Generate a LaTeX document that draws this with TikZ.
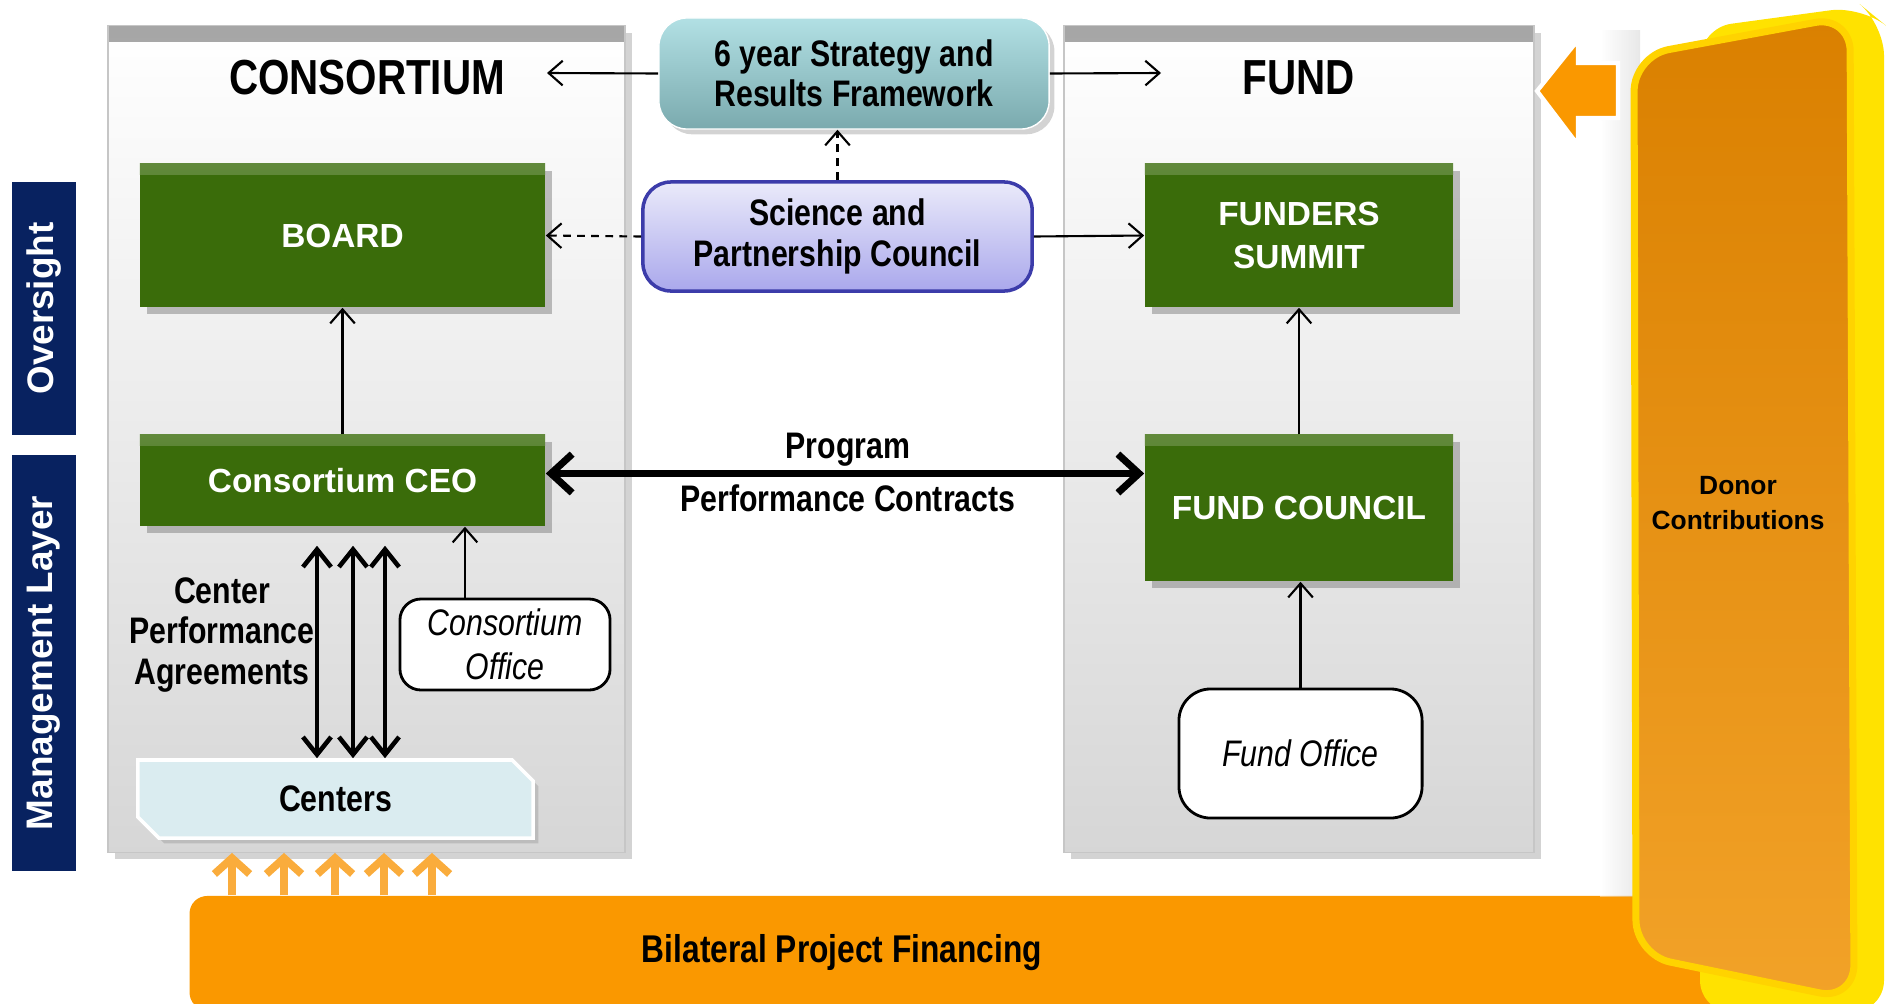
\documentclass[tikz,border=0pt]{standalone}
\usepackage{fontspec}
\setmainfont{Liberation Sans}
\newfontfamily\narrowfont[FakeStretch=0.82]{Liberation Sans}
\usetikzlibrary{arrows.meta,shadows,shapes.misc}
\definecolor{boxgreen}{RGB}{58,108,10}
\definecolor{navybar}{RGB}{8,34,96}
\definecolor{barorange}{RGB}{250,152,0}
\definecolor{tealtop}{RGB}{178,224,228}
\definecolor{tealbot}{RGB}{122,170,174}
\definecolor{lavtop}{RGB}{234,234,250}
\definecolor{lavbot}{RGB}{170,168,236}
\definecolor{lavline}{RGB}{60,60,170}
\definecolor{centerblue}{RGB}{218,236,240}
\definecolor{donortop}{RGB}{218,128,0}
\definecolor{donorbot}{RGB}{242,162,40}
\definecolor{donoryellow}{RGB}{255,226,0}
\definecolor{smallorange}{RGB}{250,172,60}

\begin{document}
\begin{tikzpicture}[x=0.01cm, y=-0.01cm,
		panel/.style={draw=gray!45, top color=white, bottom color=gray!32, minimum height=8.26cm, inner sep=0pt,
			drop shadow={opacity=0.35, shadow xshift=2pt, shadow yshift=-2pt},
			path picture={\shade[top color=gray!70, bottom color=gray!30] (path picture bounding box.north west) rectangle ([yshift=-4.5pt]path picture bounding box.north east);}},
		greenbox/.style={fill=boxgreen, text=white, inner sep=0pt, align=center, font=\bfseries\fontsize{9.5}{12.5}\selectfont,
			drop shadow={opacity=0.5, shadow xshift=2pt, shadow yshift=-2pt},
			path picture={\shade[top color=boxgreen!80!white, bottom color=boxgreen] (path picture bounding box.north west) rectangle ([yshift=-3pt]path picture bounding box.north east);}},
		officebox/.style={draw, line width=0.8pt, fill=white, rounded corners=6pt, inner sep=0pt, align=center, font=\narrowfont\itshape\fontsize{10.5}{12.5}\selectfont},
		narrowlabel/.style={align=center, font=\narrowfont\bfseries\fontsize{10.5}{11.5}\selectfont},
		titlelabel/.style={font=\narrowfont\bfseries\fontsize{14}{16}\selectfont},
		sidebar/.style={fill=navybar, text=white, rotate=90, minimum height=0.64cm, font=\bfseries\fontsize{10.5}{12}\selectfont},
		linkarrow/.style={->, >={Straight Barb[length=4pt,width=7pt]}, line width=0.6pt},
		dashlink/.style={linkarrow, dash pattern=on 2.2pt off 1.8pt},
		bigarrow/.style={<->, >={Straight Barb[length=6pt,width=11pt]}, line width=2pt},
		cpaarrow/.style={<->, >={Straight Barb[length=5pt,width=8pt]}, line width=1.3pt},
		fundarrow/.style={->, >={Straight Barb[length=4.5pt,width=10pt]}, line width=2.2pt, smallorange}]
		\useasboundingbox (0,0) rectangle (1886,1003);

		% panels and side bars
		\node[panel, minimum width=5.17cm] (cpanel)at(366.5, 439) {};
		\node[panel, minimum width=4.70cm] (fpanel)at(1299, 439) {};
		\node[sidebar, minimum width=2.53cm] (oversight)at(44, 308.5) {Oversight};
		\node[sidebar, minimum width=4.16cm] (mgmt)at(44, 663) {Management Layer};
		\node[titlelabel] (ctitle)at(367, 78) {CONSORTIUM};
		\node[titlelabel] (ftitle)at(1299, 78) {FUND};

		% boxes
		\node[narrowlabel, rounded corners=8pt, top color=tealtop, bottom color=tealbot, draw=white, minimum width=3.9cm, minimum height=1.11cm, inner sep=0pt,
			drop shadow={opacity=0.35, shadow xshift=1.5pt, shadow yshift=-1.5pt}] (strat)at(854, 73.5) {6 year Strategy and\\Results Framework};
		\node[narrowlabel, rounded corners=8pt, top color=lavtop, bottom color=lavbot, draw=lavline, line width=1pt, minimum width=3.89cm, minimum height=1.09cm, inner sep=0pt] (spc)at(837.5, 236.5) {Science and\\Partnership Council};
		\node[greenbox, minimum width=4.05cm, minimum height=1.43cm] (board)at(342.5, 235.5) {BOARD};
		\node[greenbox, minimum width=3.08cm, minimum height=1.43cm] (summit)at(1299, 235.5) {FUNDERS\\SUMMIT};
		\node[greenbox, minimum width=4.05cm, minimum height=0.91cm] (ceo)at(342.5, 480.5) {Consortium CEO};
		\node[greenbox, minimum width=3.08cm, minimum height=1.46cm] (fcouncil)at(1299, 508) {FUND COUNCIL};
		\node[officebox, minimum width=2.10cm, minimum height=0.91cm] (coffice)at(505, 644.5) {Consortium\\Office};
		\node[officebox, minimum width=2.43cm, minimum height=1.29cm, rounded corners=9pt] (foffice)at(1300.5, 753.5) {Fund Office};
		\node[narrowlabel, chamfered rectangle, chamfered rectangle corners={north east, south west}, chamfered rectangle xsep=3pt, chamfered rectangle ysep=3pt,
			fill=centerblue, draw=white, line width=1pt, minimum width=3.95cm, minimum height=0.78cm, inner sep=0pt,
			drop shadow={opacity=0.3, shadow xshift=1.5pt, shadow yshift=-1.5pt}] (centers)at(335.5, 799) {Centers};
		\node[narrowlabel] (cpa)at(222, 635) {Center\\Performance\\Agreements};

		% financing
		\node[fill=barorange, rounded corners=5pt, minimum width=16.7cm, minimum height=1.14cm] (bilat)at(1025, 953) {};
		\node[narrowlabel, font=\narrowfont\bfseries\fontsize{11}{13}\selectfont] (bpf)at(842, 953) {Bilateral Project Financing};
		\shade[left color=white, right color=gray!40, opacity=0.45] (1600, 30) rectangle (1640, 896);
		\fill[donoryellow, rounded corners=9pt] (1700, 28) -- (1862, 6) -- (1884, 24) -- (1884, 1012) -- (1700, 1012) -- cycle;
		\shade[top color=donortop, bottom color=donorbot, draw=donoryellow!85!orange, line width=2pt, rounded corners=10pt]
			(1634, 56) -- (1850, 16) -- (1854, 1000) -- (1636, 955) -- cycle;
		\node[align=center, font=\bfseries\fontsize{7.5}{10}\selectfont] (donor)at(1738, 503) {Donor\\Contributions};
		\fill[barorange, draw=white, line width=1.2pt] (1537, 91) -- (1578, 40) -- (1578, 63) -- (1618, 63) -- (1618, 118) -- (1578, 118) -- (1578, 145) -- cycle;

		% connectors
		\coordinate (ctip)at(547, 73);
		\coordinate (ftip)at(1161, 73);
		\draw[linkarrow] (strat.west) -- (ctip);
		\draw[linkarrow] (strat.east) -- (ftip);
		\draw[dashlink] (spc.north) -- (spc.north |- strat.south);
		\draw[dashlink] (spc.west) -- (board.east);
		\draw[linkarrow] (spc.east) -- (summit.west);
		\draw[linkarrow] (ceo.north) -- (board.south);
		\draw[linkarrow] ([xshift=-0.4cm]coffice.north) -- ([xshift=-0.4cm]coffice.north |- ceo.south);
		\draw[linkarrow] (fcouncil.north) -- (summit.south);
		\draw[linkarrow] (foffice.north) -- (foffice.north |- fcouncil.south);
		\draw[bigarrow] ([yshift=0.07cm]ceo.east) -- ([yshift=0.07cm]ceo.east -| fcouncil.west);
		\node[narrowlabel] (prog)at(848, 450) {Program};
		\node[narrowlabel] (pcon)at(848, 498) {Performance Contracts};
		\foreach \ax in {317, 353, 385}
			\draw[cpaarrow, shorten <=0.19cm] (ceo.south -| \ax,0) -- (centers.north -| \ax,0);
		\foreach \ax in {232, 284, 335, 384, 432}
			\draw[fundarrow] (bilat.north -| \ax,0) -- (cpanel.south -| \ax,0);
\end{tikzpicture}
\end{document}
